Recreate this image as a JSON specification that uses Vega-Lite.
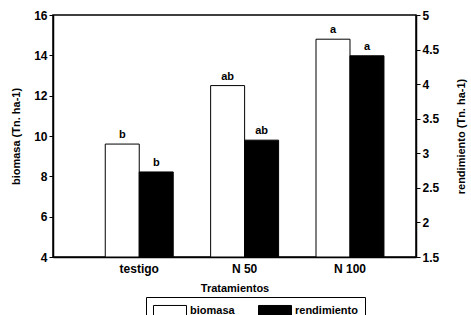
{
  "$schema": "https://vega.github.io/schema/vega-lite/v6.json",
  "width": 363,
  "height": 242,
  "autosize": {"type": "none"},
  "padding": {"left": 53, "top": 15, "right": 55, "bottom": 58},
  "background": "white",
  "data": {
    "values": [
      {"trat": "testigo", "serie": "biomasa", "valor": 9.6, "letra": "b"},
      {"trat": "N 50", "serie": "biomasa", "valor": 12.5, "letra": "ab"},
      {"trat": "N 100", "serie": "biomasa", "valor": 14.8, "letra": "a"},
      {"trat": "testigo", "serie": "rendimiento", "valor": 2.73, "letra": "b"},
      {"trat": "N 50", "serie": "rendimiento", "valor": 3.19, "letra": "ab"},
      {"trat": "N 100", "serie": "rendimiento", "valor": 4.41, "letra": "a"}
    ]
  },
  "encoding": {
    "x": {
      "field": "trat", "type": "nominal",
      "sort": ["testigo", "N 50", "N 100"],
      "scale": {"paddingInner": 0.355, "paddingOuter": 0.4, "align": 0.62},
      "axis": {"title": "Tratamientos", "labelAngle": 0, "ticks": false, "labelPadding": 6, "titlePadding": 8}
    },
    "xOffset": {"field": "serie", "type": "nominal", "sort": ["biomasa", "rendimiento"], "scale": {"paddingInner": 0, "paddingOuter": 0}}
  },
  "layer": [
    {
      "transform": [{"filter": "datum.serie == 'biomasa'"}],
      "encoding": {
        "y": {
          "field": "valor", "type": "quantitative",
          "scale": {"domain": [4, 16], "nice": false, "zero": false},
          "axis": {"orient": "left", "title": "biomasa (Tn. ha-1)", "values": [4, 6, 8, 10, 12, 14, 16], "grid": false, "tickSize": 4, "titlePadding": 12}
        }
      },
      "layer": [
        {
          "mark": {"type": "bar", "stroke": "black", "strokeWidth": 1},
          "encoding": {
            "y2": {"datum": 4},
            "fill": {"field": "serie", "type": "nominal", "scale": {"domain": ["biomasa", "rendimiento"], "range": ["white", "black"]},
              "legend": {"orient": "none", "legendX": 93, "legendY": 282, "direction": "horizontal", "title": null,
                "symbolType": "M-1,-0.92H4.5V0.92H-1Z", "symbolSize": 144, "symbolStrokeColor": "black", "symbolStrokeWidth": 1,
                "strokeColor": "black", "padding": 7, "columnPadding": 21, "labelFontSize": 11, "labelFont": "Liberation Sans", "labelFontWeight": "bold", "labelOffset": 24}}
          }
        },
        {
          "mark": {"type": "text", "dy": -9, "font": "Liberation Sans", "fontWeight": "bold", "fontSize": 11, "color": "black"},
          "encoding": {"text": {"field": "letra"}}
        }
      ]
    },
    {
      "transform": [{"filter": "datum.serie == 'rendimiento'"}],
      "encoding": {
        "y": {
          "field": "valor", "type": "quantitative",
          "scale": {"domain": [1.5, 5], "nice": false, "zero": false},
          "axis": {"orient": "right", "title": "rendimiento (Tn. ha-1)", "titleAngle": 270, "values": [1.5, 2, 2.5, 3, 3.5, 4, 4.5, 5], "format": "~g", "grid": false, "tickSize": 4, "titlePadding": 28}
        }
      },
      "layer": [
        {
          "mark": {"type": "bar", "stroke": "black", "strokeWidth": 1},
          "encoding": {
            "y2": {"datum": 1.5},
            "fill": {"field": "serie", "type": "nominal", "scale": {"domain": ["biomasa", "rendimiento"], "range": ["white", "black"]}}
          }
        },
        {
          "mark": {"type": "text", "dy": -9, "font": "Liberation Sans", "fontWeight": "bold", "fontSize": 11, "color": "black"},
          "encoding": {"text": {"field": "letra"}}
        }
      ]
    }
  ],
  "resolve": {"scale": {"y": "independent"}},
  "config": {
    "view": {"stroke": "black", "strokeWidth": 1.5},
    "axis": {
      "domainColor": "black", "domainWidth": 1.5, "tickColor": "black",
      "labelColor": "black", "titleColor": "black",
      "labelFont": "Liberation Sans", "labelFontWeight": "bold", "labelFontSize": 12,
      "titleFont": "Liberation Sans", "titleFontWeight": "bold", "titleFontSize": 11
    }
  }
}
